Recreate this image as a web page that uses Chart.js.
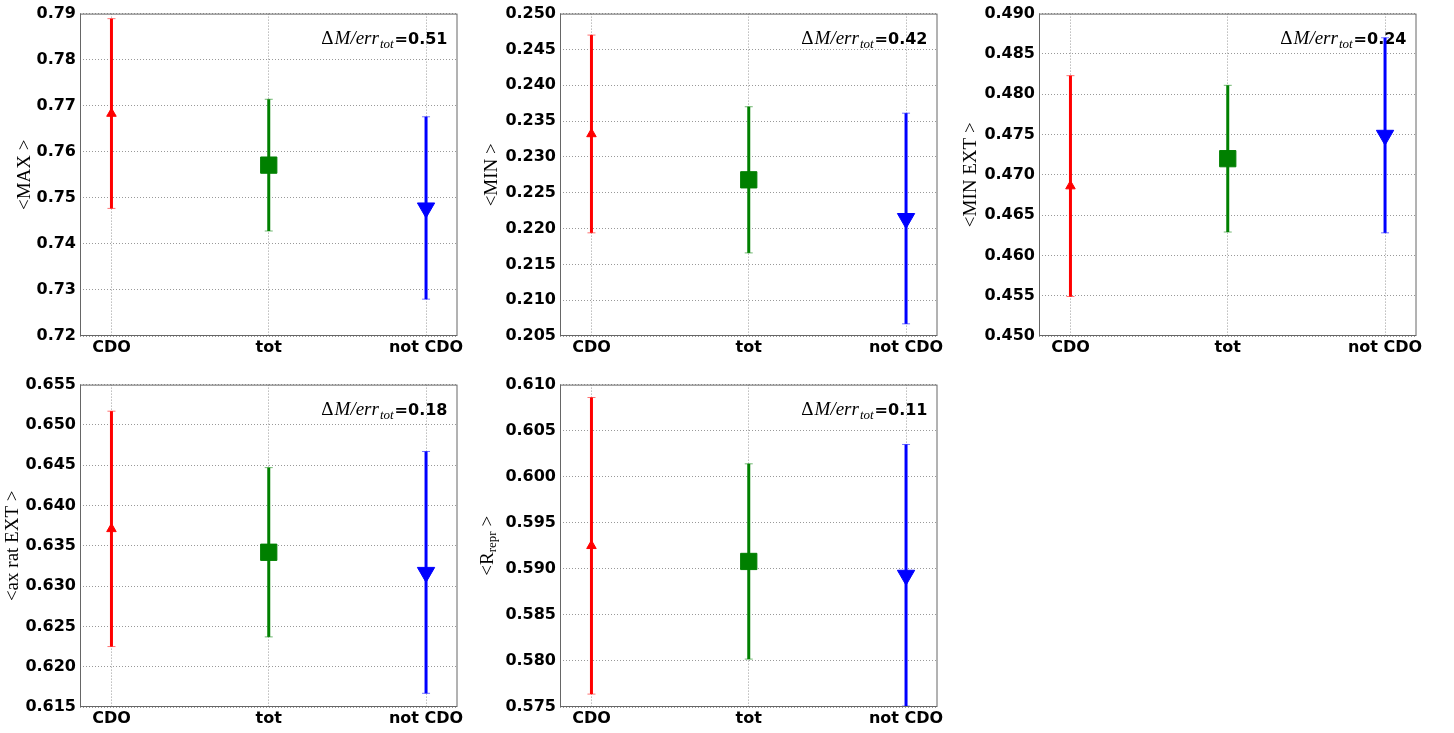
<!DOCTYPE html>
<html>
<head>
<meta charset="utf-8">
<script src="https://cdn.jsdelivr.net/npm/chart.js@4.4.0/dist/chart.umd.min.js"></script>
<style>
  body { margin: 0; background: #fff; }
  canvas { position: absolute; }
</style>
</head>
<body>
<canvas id="p0" width="470" height="366" style="left:0px;top:0px"></canvas>
<canvas id="p1" width="470" height="366" style="left:480px;top:0px"></canvas>
<canvas id="p2" width="470" height="366" style="left:959px;top:0px"></canvas>
<canvas id="p3" width="470" height="366" style="left:0px;top:371px"></canvas>
<canvas id="p4" width="470" height="366" style="left:480px;top:371px"></canvas>
<script>
const categories = ['CDO', 'tot', 'not CDO'];

// <MAX>
const maxValues = [0.7683, 0.7571, 0.7478];
const maxErrors = [0.0206, 0.0143, 0.0198];
const maxTicks = [0.72, 0.73, 0.74, 0.75, 0.76, 0.77, 0.78, 0.79];

// <MIN>
const minValues = [0.2332, 0.2268, 0.2214];
const minErrors = [0.0138, 0.0102, 0.0147];
const minTicks = [0.205, 0.210, 0.215, 0.220, 0.225, 0.230, 0.235, 0.240, 0.245, 0.250];

// <MIN EXT>
const minExtValues = [0.4686, 0.4720, 0.4749];
const minExtErrors = [0.0137, 0.0091, 0.0121];
const minExtTicks = [0.450, 0.455, 0.460, 0.465, 0.470, 0.475, 0.480, 0.485, 0.490];

// <ax rat EXT>
const axRatValues = [0.6371, 0.6342, 0.6317];
const axRatErrors = [0.0146, 0.0105, 0.0150];
const axRatTicks = [0.615, 0.620, 0.625, 0.630, 0.635, 0.640, 0.645, 0.650, 0.655];

// <R_repr>
const rReprValues = [0.5925, 0.5908, 0.5893];
const rReprErrors = [0.0161, 0.0106, 0.0142];
const rReprTicks = [0.575, 0.580, 0.585, 0.590, 0.595, 0.600, 0.605, 0.610];

const deltaLabels = ['0.51', '0.42', '0.24', '0.18', '0.11'];
// y titles: main text, subscript, closing part
const yTitles = ['<MAX', '<MIN', '<MIN EXT', '<ax rat EXT', '<R'];
const yTitleSubs = ['', '', '', '', 'repr'];

const colors = ['#ff0000', '#008000', '#0000ff'];
const capColors = ['rgba(255,0,0,0.55)', 'rgba(0,128,0,0.55)', 'rgba(0,0,255,0.55)'];

const panels = [
    { id: 'p0', values: maxValues, errors: maxErrors, ticks: maxTicks, digits: 2, titleX: 25 },
    { id: 'p1', values: minValues, errors: minErrors, ticks: minTicks, digits: 3, titleX: 12 },
    { id: 'p2', values: minExtValues, errors: minExtErrors, ticks: minExtTicks, digits: 3, titleX: 12 },
    { id: 'p3', values: axRatValues, errors: axRatErrors, ticks: axRatTicks, digits: 3, titleX: 13 },
    { id: 'p4', values: rReprValues, errors: rReprErrors, ticks: rReprTicks, digits: 3, titleX: 8 }
];

// frame, annotation, y title and error bars
const extras = {
    id: 'extras',
    beforeDatasetsDraw(chart) {
        const { ctx, chartArea, scales: { x, y } } = chart;
        const ds = chart.data.datasets[0];

        // annotation  ΔM/err_tot=0.xx
        let xr = chartArea.right - 10;
        const yb = chartArea.top + 30;
        ctx.save();
        ctx.fillStyle = '#000';
        ctx.textBaseline = 'alphabetic';
        ctx.textAlign = 'right';
        ctx.font = 'bold 16px "DejaVu Sans"';
        ctx.fillText('=' + ds.delta, xr, yb);
        xr -= ctx.measureText('=' + ds.delta).width + 1;
        ctx.font = 'italic 13px "Liberation Serif"';
        ctx.fillText('tot', xr, yb + 4);
        xr -= ctx.measureText('tot').width + 1;
        ctx.font = 'italic 19px "Liberation Serif"';
        ctx.fillText('M/err', xr, yb);
        xr -= ctx.measureText('M/err').width + 1;
        ctx.font = '19px "Liberation Serif"';
        ctx.fillText('\u0394', xr, yb);
        ctx.restore();

        // error bars
        ds.data.forEach((p, i) => {
            const px = x.getPixelForValue(p.x);
            const top = y.getPixelForValue(p.y + ds.errors[i]);
            const bot = y.getPixelForValue(p.y - ds.errors[i]);
            ctx.save();
            ctx.strokeStyle = colors[i];
            ctx.lineWidth = 3;
            ctx.beginPath();
            ctx.moveTo(px, top);
            ctx.lineTo(px, bot);
            ctx.stroke();
            ctx.strokeStyle = capColors[i];
            ctx.lineWidth = 1;
            ctx.beginPath();
            ctx.moveTo(px - 4, top);
            ctx.lineTo(px + 4, top);
            ctx.moveTo(px - 4, bot);
            ctx.lineTo(px + 4, bot);
            ctx.stroke();
            ctx.restore();
        });
    },
    afterDraw(chart) {
        const { ctx, chartArea } = chart;
        const ds = chart.data.datasets[0];
        ctx.save();
        ctx.strokeStyle = '#666';
        ctx.lineWidth = 1;
        ctx.strokeRect(chartArea.left + 0.5, chartArea.top + 0.5,
            chartArea.right - chartArea.left - 1, chartArea.bottom - chartArea.top - 1);
        ctx.restore();

        // rotated y title with optional subscript
        const main = ds.yTitle, sub = ds.yTitleSub, tail = ' >';
        ctx.save();
        ctx.translate(ds.titleX, (chartArea.top + chartArea.bottom) / 2);
        ctx.rotate(-Math.PI / 2);
        ctx.fillStyle = '#000';
        ctx.textBaseline = 'middle';
        ctx.textAlign = 'left';
        const big = '19px "Liberation Serif"', small = '13px "Liberation Serif"';
        ctx.font = big;
        const wMain = ctx.measureText(main).width, wTail = ctx.measureText(tail).width;
        ctx.font = small;
        const wSub = sub ? ctx.measureText(sub).width : 0;
        let tx = -(wMain + wSub + wTail) / 2;
        ctx.font = big;
        ctx.fillText(main, tx, 0);
        tx += wMain;
        if (sub) {
            ctx.font = small;
            ctx.fillText(sub, tx, 5);
            tx += wSub;
            ctx.font = big;
        }
        ctx.fillText(tail, tx, 0);
        ctx.restore();
    }
};

panels.forEach((pn, k) => {
    const ctx = document.getElementById(pn.id).getContext('2d');
    new Chart(ctx, {
        type: 'scatter',
        data: {
            datasets: [{
                data: pn.values.map((v, i) => ({ x: i, y: v })),
                errors: pn.errors,
                delta: deltaLabels[k],
                yTitle: yTitles[k],
                yTitleSub: yTitleSubs[k],
                titleX: pn.titleX,
                pointStyle: ['triangle', 'rect', 'triangle'],
                rotation: [0, 0, 180],
                radius: [5.5, 11.5, 10],
                backgroundColor: colors,
                borderColor: colors,
                borderWidth: 1,
                showLine: false
            }]
        },
        options: {
            responsive: false,
            animation: false,
            events: [],
            layout: { padding: { top: 11, right: 10, left: 0, bottom: 0 } },
            plugins: {
                legend: { display: false },
                tooltip: { enabled: false }
            },
            scales: {
                x: {
                    type: 'linear',
                    min: -0.2,
                    max: 2.2,
                    afterBuildTicks: s => { s.ticks = categories.map((c, i) => ({ value: i })); },
                    afterFit: s => { s.height = 30; },
                    ticks: {
                        callback: v => categories[v],
                        color: '#000',
                        padding: 2,
                        maxRotation: 0,
                        font: { family: '"DejaVu Sans"', size: 16, weight: 'bold' }
                    },
                    grid: { color: '#999', drawTicks: false },
                    border: { display: false, dash: [1, 2] }
                },
                y: {
                    min: pn.ticks[0],
                    max: pn.ticks[pn.ticks.length - 1],
                    afterBuildTicks: s => { s.ticks = pn.ticks.map(v => ({ value: v })); },
                    afterFit: s => { s.width = 80; },
                    ticks: {
                        callback: v => v.toFixed(pn.digits),
                        color: '#000',
                        padding: 4,
                        font: { family: '"DejaVu Sans"', size: 16, weight: 'bold' }
                    },
                    grid: { color: '#999', drawTicks: false },
                    border: { display: false, dash: [1, 2] }
                }
            }
        },
        plugins: [extras]
    });
});
</script>
</body>
</html>
